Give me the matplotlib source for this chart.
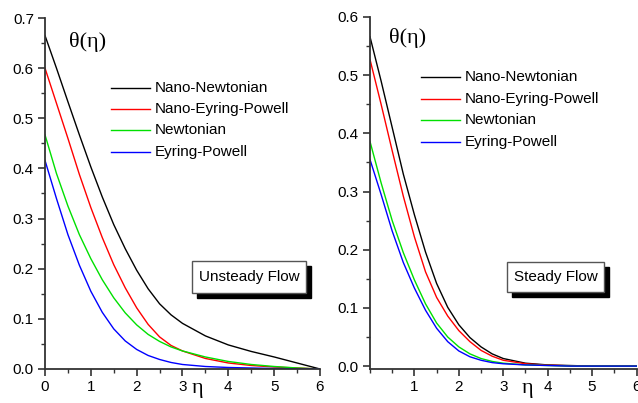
import numpy as np
import matplotlib
matplotlib.use("Agg")
import matplotlib.pyplot as plt
from matplotlib.patches import Rectangle
from matplotlib.ticker import MultipleLocator

# ---------------- data ----------------
eta_u = [0, 0.25, 0.5, 0.75, 1, 1.25, 1.5, 1.75, 2, 2.25, 2.5, 2.75, 3, 3.5, 4, 4.5, 5, 5.5, 6]
u_nano_newt = [0.665, 0.60, 0.533, 0.467, 0.403, 0.343, 0.288, 0.240, 0.197, 0.160, 0.130, 0.108, 0.091, 0.066, 0.048, 0.035, 0.024, 0.012, 0.0]
u_nano_ep = [0.600, 0.530, 0.460, 0.388, 0.322, 0.262, 0.208, 0.162, 0.122, 0.089, 0.064, 0.047, 0.036, 0.021, 0.012, 0.007, 0.004, 0.002, 0.0]
u_newt = [0.467, 0.390, 0.325, 0.268, 0.220, 0.178, 0.142, 0.112, 0.088, 0.069, 0.055, 0.044, 0.036, 0.024, 0.015, 0.009, 0.005, 0.002, 0.0]
u_ep = [0.416, 0.340, 0.268, 0.207, 0.155, 0.113, 0.080, 0.056, 0.039, 0.027, 0.019, 0.013, 0.009, 0.005, 0.003, 0.002, 0.001, 0.0005, 0.0]

eta_s = [0, 0.25, 0.5, 0.75, 1, 1.25, 1.5, 1.75, 2, 2.25, 2.5, 2.75, 3, 3.5, 4, 4.5, 5, 5.5, 6]
s_nano_newt = [0.566, 0.490, 0.410, 0.330, 0.260, 0.196, 0.142, 0.101, 0.071, 0.049, 0.033, 0.021, 0.013, 0.005, 0.002, 0.001, 0.0, 0.0, 0.0]
s_nano_ep = [0.527, 0.450, 0.370, 0.292, 0.222, 0.162, 0.118, 0.086, 0.061, 0.042, 0.027, 0.017, 0.010, 0.004, 0.0015, 0.0005, 0.0, 0.0, 0.0]
s_newt = [0.386, 0.315, 0.250, 0.195, 0.148, 0.107, 0.074, 0.050, 0.033, 0.021, 0.013, 0.008, 0.005, 0.002, 0.001, 0.0, 0.0, 0.0, 0.0]
s_ep = [0.355, 0.295, 0.232, 0.178, 0.134, 0.096, 0.065, 0.042, 0.026, 0.016, 0.010, 0.006, 0.004, 0.002, 0.001, 0.0, 0.0, 0.0, 0.0]

labels = ["Nano-Newtonian", "Nano-Eyring-Powell", "Newtonian", "Eyring-Powell"]
colors = ["#000000", "#ff0000", "#00e000", "#0000ff"]

W, H = 638, 403
fig = plt.figure(figsize=(W / 100, H / 100), dpi=100)
plt.rcParams['font.family'] = ['Liberation Sans', 'DejaVu Sans']

def px_axes(x0, y_top, x1, y_bot):
    return fig.add_axes([x0 / W, 1 - y_bot / H, (x1 - x0) / W, (y_bot - y_top) / H])

def style(ax):
    for s in ["top", "right"]:
        ax.spines[s].set_visible(False)
    for s in ["left", "bottom"]:
        ax.spines[s].set_linewidth(1.3)
        ax.spines[s].set_color("#333333")
    ax.tick_params(which="major", direction="out", length=5, width=1.2, labelsize=11, pad=3, color="#333333")
    ax.tick_params(which="minor", direction="out", length=3, width=1.0, color="#333333")
    ax.yaxis.set_minor_locator(MultipleLocator(0.05))
    ax.xaxis.set_minor_locator(MultipleLocator(0.5))

def shadow_box(x0, y0, x1, y1, text):
    # pixel coordinates (top-left origin)
    off = 5
    fig.patches.append(Rectangle(((x0 + off) / W, 1 - (y1 + off) / H), (x1 - x0) / W, (y1 - y0) / H,
                                 transform=fig.transFigure, facecolor="black", edgecolor="black", zorder=5))
    fig.patches.append(Rectangle((x0 / W, 1 - y1 / H), (x1 - x0) / W, (y1 - y0) / H,
                                 transform=fig.transFigure, facecolor="white", edgecolor="#555555",
                                 linewidth=1.0, zorder=6))
    fig.text((x0 + x1) / 2 / W, 1 - (y0 + y1) / 2 / H, text, ha="center", va="center",
             fontsize=11, zorder=7)

def legend_rows(ys, line_x0, line_x1):
    for lab, c, y in zip(labels, colors, ys):
        fig.lines.append(plt.Line2D([line_x0 / W, line_x1 / W], [1 - y / H, 1 - y / H],
                                    transform=fig.transFigure, color=c, lw=1.0))
        fig.text((line_x1 + 5) / W, 1 - y / H, lab, ha="left", va="center", fontsize=11)

# ---------------- left: unsteady ----------------
ax1 = px_axes(45, 18, 320, 369)
for ys, c in zip([u_nano_newt, u_nano_ep, u_newt, u_ep], colors):
    ax1.plot(eta_u, ys, color=c, lw=1.0)
ax1.set_xlim(0, 6)
ax1.set_ylim(0, 0.7)
ax1.set_xticks([0, 1, 2, 3, 4, 5, 6])
ax1.set_yticks([0.0, 0.1, 0.2, 0.3, 0.4, 0.5, 0.6, 0.7])
ax1.set_yticklabels(["0.0", "0.1", "0.2", "0.3", "0.4", "0.5", "0.6", "0.7"])
style(ax1)
fig.text(88 / W, 1 - 42 / H, "θ(η)", family="Liberation Serif", fontsize=16, ha="center", va="center")
fig.text(197 / W, 1 - 389 / H, "η", family="Liberation Serif", fontsize=16, ha="center", va="center")
legend_rows([88, 109, 130, 152], 111, 150)
shadow_box(192, 261, 306, 293, "Unsteady Flow")

# ---------------- right: steady ----------------
ax2 = px_axes(370, 17, 636.5, 369)
for ys, c in zip([s_nano_newt, s_nano_ep, s_newt, s_ep], colors):
    ax2.plot(eta_s, ys, color=c, lw=1.0)
ax2.set_xlim(0, 6)
ax2.set_ylim(-0.005, 0.6)
ax2.set_xticks([1, 2, 3, 4, 5, 6])
ax2.set_yticks([0.0, 0.1, 0.2, 0.3, 0.4, 0.5, 0.6])
ax2.set_yticklabels(["0.0", "0.1", "0.2", "0.3", "0.4", "0.5", "0.6"])
style(ax2)
fig.text(408 / W, 1 - 38 / H, "θ(η)", family="Liberation Serif", fontsize=16, ha="center", va="center")
fig.text(527 / W, 1 - 388 / H, "η", family="Liberation Serif", fontsize=16, ha="center", va="center")
legend_rows([77, 99, 120, 142], 421, 460)
shadow_box(507, 262, 604, 292, "Steady Flow")

fig.savefig("out.png", dpi=100)
